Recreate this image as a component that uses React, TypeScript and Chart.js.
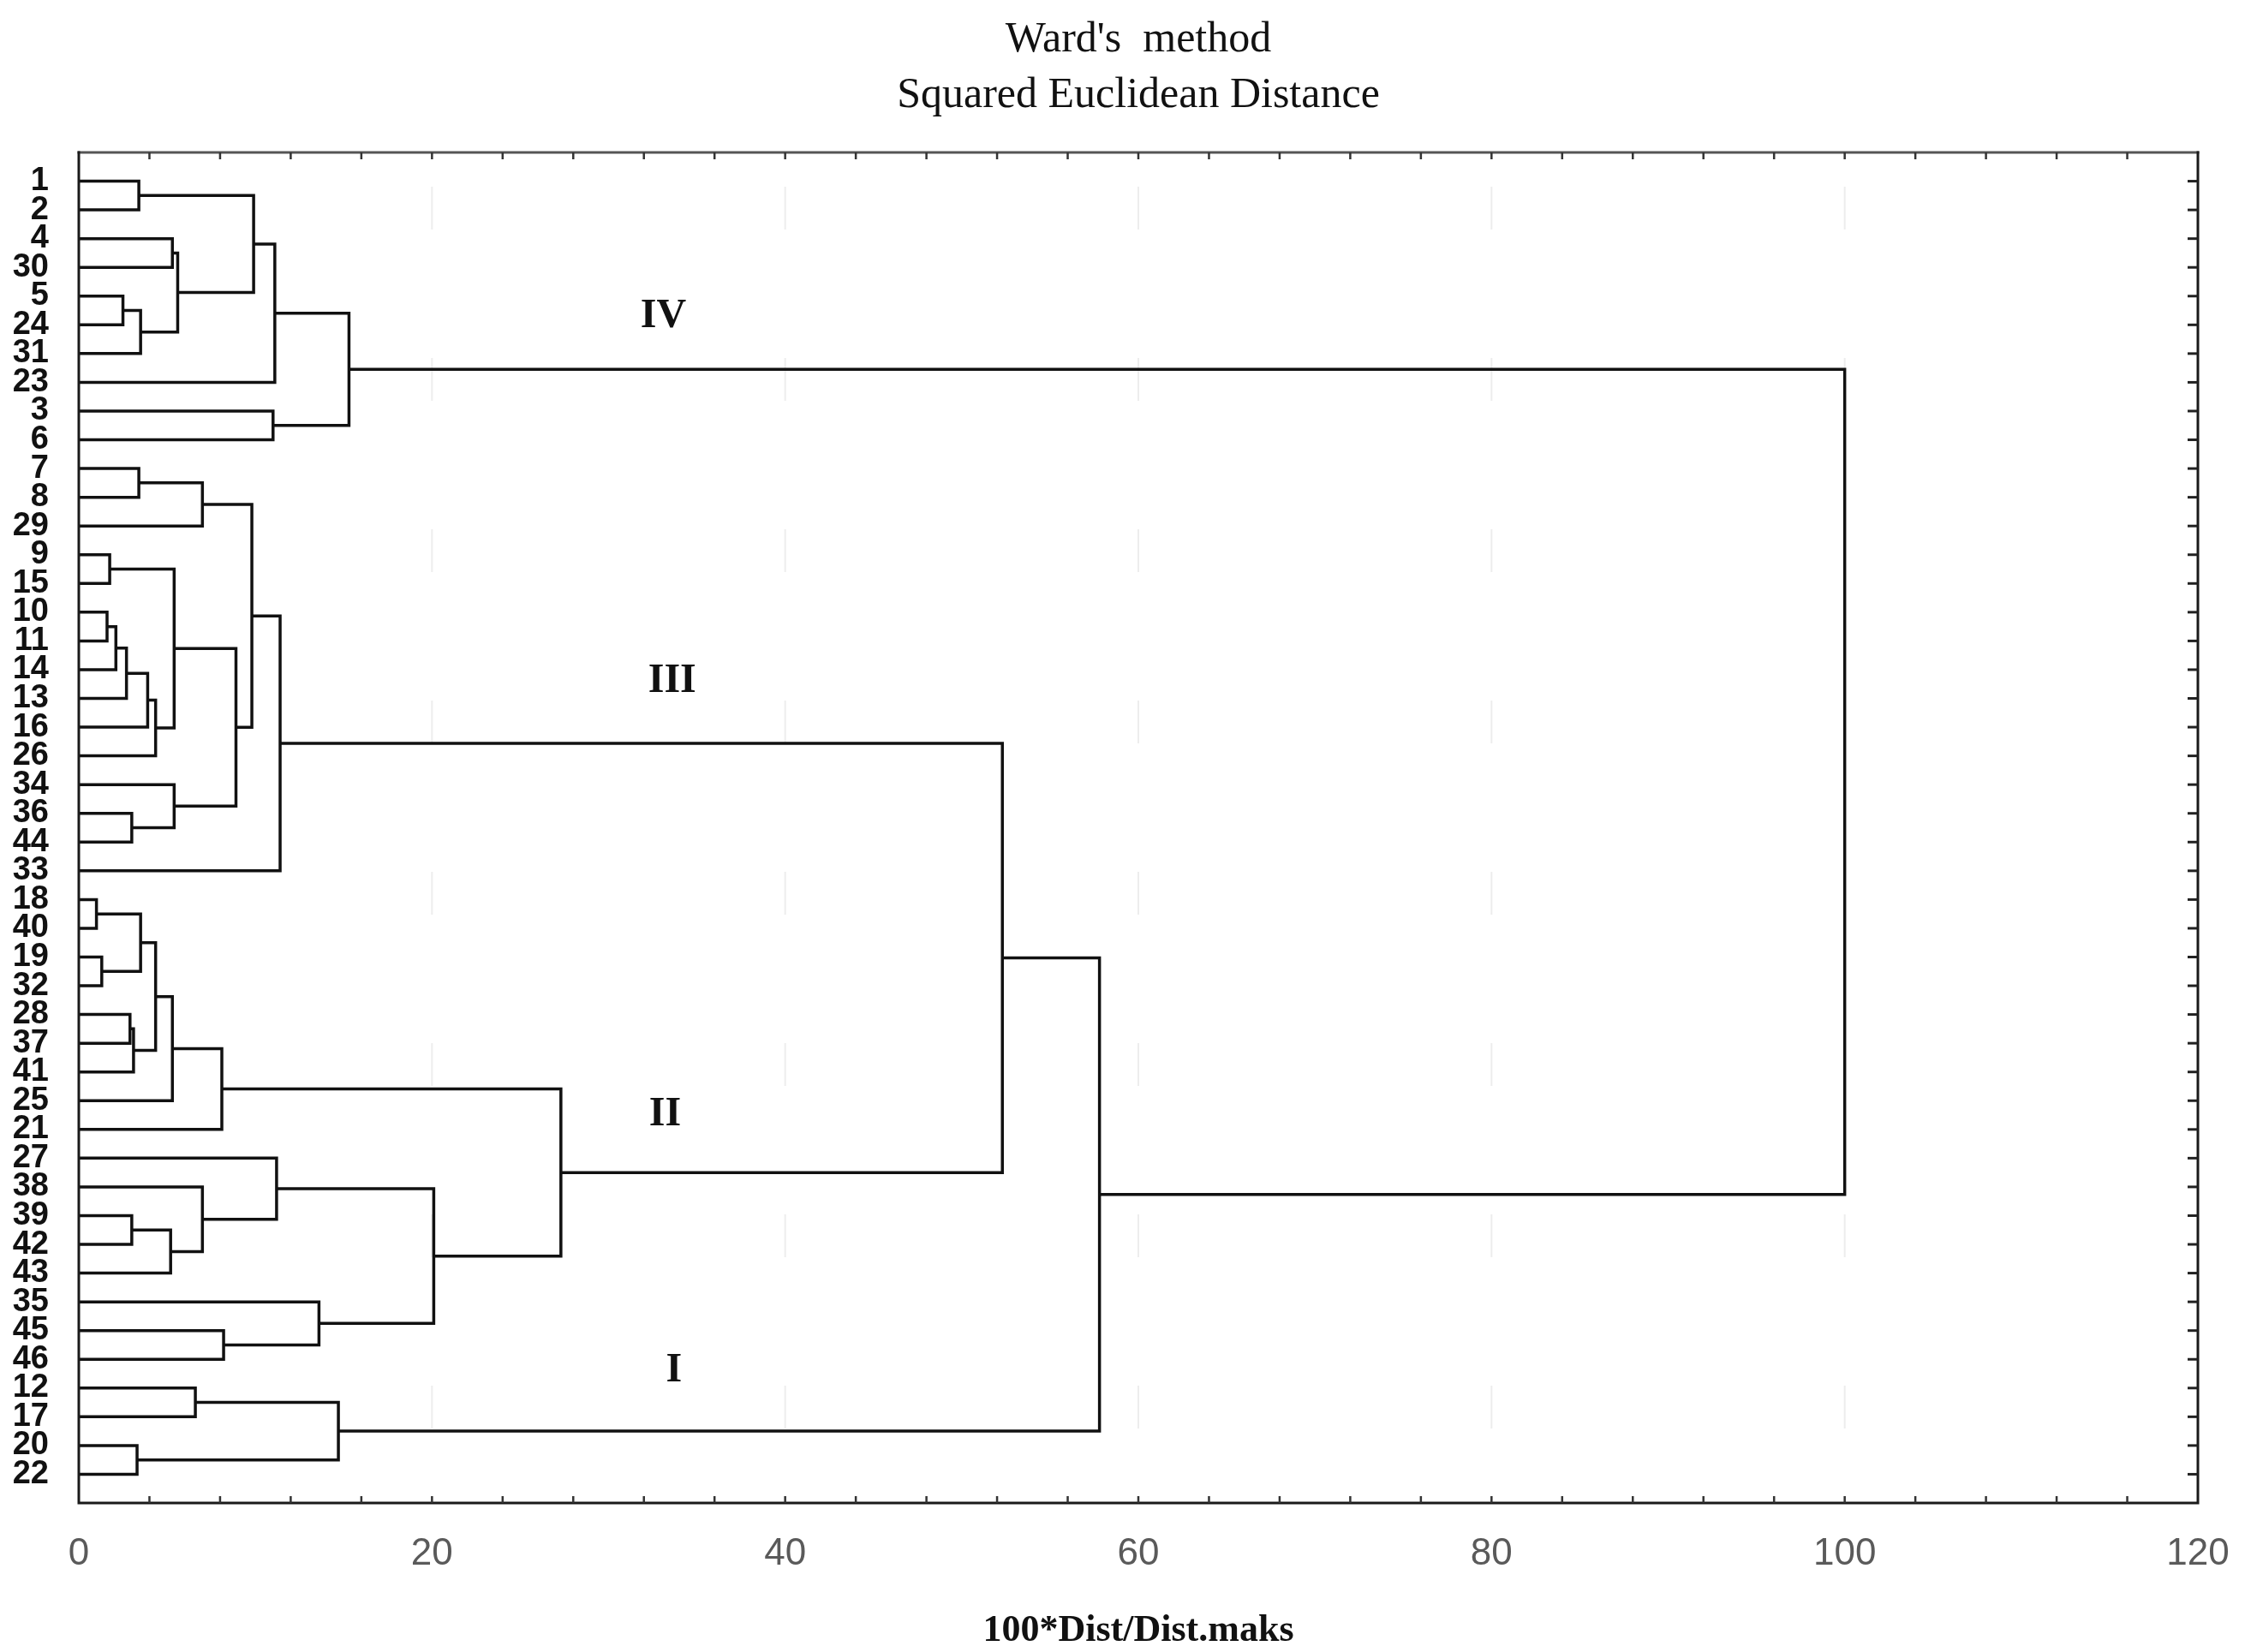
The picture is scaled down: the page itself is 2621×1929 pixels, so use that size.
import React, { useEffect, useRef } from 'react';
import { Chart, registerables } from 'chart.js';

Chart.register(...registerables);

// ---------- data ----------
const titleLines = ["Ward's  method", 'Squared Euclidean Distance'];
const xAxisTitle = '100*Dist/Dist.maks';

// leaf order, top to bottom
const leafOrder = [
  '1', '2', '4', '30', '5', '24', '31', '23', '3', '6',
  '7', '8', '29', '9', '15', '10', '11', '14', '13', '16',
  '26', '34', '36', '44', '33', '18', '40', '19', '32', '28',
  '37', '41', '25', '21', '27', '38', '39', '42', '43', '35',
  '45', '46', '12', '17', '20', '22',
];

// merges: children are leaf labels or 'm<k>' (k-th earlier merge); height = 100*Dist/Dist.maks
const mergeA = [
  '1', '4', '5', 'm2', 'm1', 'm0', 'm5', '3', 'm6',
  '7', 'm9', '9', '10', 'm12', 'm13', 'm14', 'm15', 'm11', '36', '34', 'm17', 'm10', 'm21',
  '18', '19', 'm23', '28', 'm26', 'm25', 'm28', 'm29', '39', 'm31', '38', '27', '45', '35', 'm34', 'm30',
  '12', '20', 'm39',
  'm22', 'm42', 'm8',
];
const mergeB = [
  '2', '30', '24', '31', 'm3', 'm4', '23', '6', 'm7',
  '8', '29', '15', '11', '14', '13', '16', '26', 'm16', '44', 'm18', 'm19', 'm20', '33',
  '40', '32', 'm24', '37', '41', 'm27', '25', '21', '42', '43', 'm32', 'm33', '46', 'm35', 'm36', 'm37',
  '17', '22', 'm40',
  'm38', 'm41', 'm43',
];
const mergeHeight = [
  3.4, 5.3, 2.5, 3.5, 5.6, 9.9, 11.1, 11.0, 15.3,
  3.4, 7.0, 1.75, 1.6, 2.1, 2.7, 3.9, 4.35, 5.4, 3.0, 5.4, 8.9, 9.8, 11.4,
  1.0, 1.3, 3.5, 2.9, 3.1, 4.35, 5.3, 8.1, 3.0, 5.2, 7.0, 11.2, 8.2, 13.6, 20.1, 27.3,
  6.6, 3.3, 14.7,
  52.3, 57.8, 100,
];

const xTickValues = [0, 20, 40, 60, 80, 100, 120];

const clusterNames = ['IV', 'III', 'II', 'I'];
const clusterNameX = [33.1, 33.6, 33.2, 33.7];
const clusterNameY = [5.7, 18.4, 33.5, 42.4];

// ---------- build link segments through data coordinates ----------
function buildLinks() {
  const pos: Record<string, { x: number; y: number }> = {};
  leafOrder.forEach((l, i) => {
    pos[l] = { x: 0, y: i + 1 };
  });
  const links: { x: number; y: number }[][] = [];
  mergeA.forEach((a, k) => {
    const b = mergeB[k];
    const h = mergeHeight[k];
    const pa = pos[a];
    const pb = pos[b];
    links.push([
      { x: pa.x, y: pa.y },
      { x: h, y: pa.y },
      { x: h, y: pb.y },
      { x: pb.x, y: pb.y },
    ]);
    pos['m' + k] = { x: h, y: (pa.y + pb.y) / 2 };
  });
  return links;
}

const decorPlugin = {
  id: 'decor',
  beforeDatasetsDraw(chart: any) {
    const { ctx, chartArea: a, scales } = chart;
    const x = scales.x;
    ctx.save();
    ctx.strokeStyle = 'rgba(0,0,0,0.07)';
    ctx.lineWidth = 2;
    ctx.setLineDash([50, 150]);
    xTickValues.forEach((v) => {
      if (v <= x.min || v >= x.max) return;
      const px = x.getPixelForValue(v);
      ctx.beginPath();
      ctx.moveTo(px, a.top + 40);
      ctx.lineTo(px, a.bottom);
      ctx.stroke();
    });
    ctx.restore();
  },
  afterDraw(chart: any) {
    const { ctx, chartArea: a, scales } = chart;
    const x = scales.x;
    const y = scales.y;
    ctx.save();
    // frame
    ctx.lineCap = 'square';
    ctx.lineWidth = 3;
    ctx.strokeStyle = '#555';
    ctx.beginPath();
    ctx.moveTo(a.left, a.top);
    ctx.lineTo(a.right, a.top);
    ctx.stroke();
    ctx.strokeStyle = '#1a1a1a';
    ctx.beginPath();
    ctx.moveTo(a.right, a.top);
    ctx.lineTo(a.right, a.bottom);
    ctx.lineTo(a.left, a.bottom);
    ctx.lineTo(a.left, a.top);
    ctx.stroke();
    // minor ticks on top and bottom (inward)
    ctx.lineCap = 'butt';
    ctx.lineWidth = 2.5;
    ctx.strokeStyle = '#333';
    for (let v = 4; v < x.max; v += 4) {
      const px = x.getPixelForValue(v);
      ctx.beginPath();
      ctx.moveTo(px, a.top);
      ctx.lineTo(px, a.top + 8);
      ctx.moveTo(px, a.bottom);
      ctx.lineTo(px, a.bottom - 8);
      ctx.stroke();
    }
    // right-side ticks at every leaf
    ctx.lineWidth = 3;
    ctx.strokeStyle = '#222';
    leafOrder.forEach((_, i) => {
      const py = y.getPixelForValue(i + 1);
      ctx.beginPath();
      ctx.moveTo(a.right, py);
      ctx.lineTo(a.right - 12, py);
      ctx.stroke();
    });
    // cluster names
    ctx.fillStyle = '#111';
    ctx.font = 'bold 48px "Liberation Serif", "Times New Roman", serif';
    ctx.textAlign = 'center';
    ctx.textBaseline = 'middle';
    clusterNames.forEach((n, i) => {
      ctx.fillText(n, x.getPixelForValue(clusterNameX[i]), y.getPixelForValue(clusterNameY[i]));
    });
    ctx.restore();
  },
};

export default function App() {
  const canvasRef = useRef<HTMLCanvasElement | null>(null);

  useEffect(() => {
    const canvas = canvasRef.current;
    if (!canvas) return;
    const links = buildLinks();
    const chart = new Chart(canvas, {
      type: 'scatter',
      data: {
        datasets: links.map((pts) => ({
          data: pts,
          showLine: true,
          borderColor: '#111',
          borderWidth: 3.5,
          pointRadius: 0,
          pointHoverRadius: 0,
          fill: false,
          tension: 0,
          clip: false as any,
        })),
      },
      options: {
        animation: false,
        responsive: false,
        devicePixelRatio: 1,
        layout: { padding: { left: 0, right: 55, top: 0, bottom: 0 } },
        plugins: {
          legend: { display: false },
          tooltip: { enabled: false },
          title: {
            display: true,
            fullSize: false,
            text: titleLines,
            color: '#111',
            font: { family: '"Liberation Serif", "Times New Roman", serif', size: 50, weight: 'normal', lineHeight: 1.3 },
            padding: { top: 14, bottom: 34 },
          },
        },
        scales: {
          x: {
            type: 'linear',
            position: 'bottom',
            min: 0,
            max: 120,
            afterBuildTicks: (scale: any) => {
              scale.ticks = xTickValues.map((v) => ({ value: v }));
            },
            afterFit: (scale: any) => {
              scale.height = 174;
              scale.paddingLeft = 0;
              scale.paddingRight = 0;
            },
            grid: { display: false, drawTicks: false },
            border: { display: false },
            ticks: {
              autoSkip: false,
              maxRotation: 0,
              padding: 33,
              color: '#5a5a5a',
              font: { family: '"Liberation Sans", Arial, sans-serif', size: 44, weight: 'normal', lineHeight: 1.2 },
            },
            title: {
              display: true,
              text: xAxisTitle,
              color: '#111',
              font: { family: '"Liberation Serif", "Times New Roman", serif', size: 44, weight: 'bold', lineHeight: 1.1 },
              padding: { top: 0, bottom: 0 },
            },
          },
          y: {
            type: 'linear',
            position: 'left',
            min: 0,
            max: leafOrder.length + 1,
            reverse: true,
            afterBuildTicks: (scale: any) => {
              scale.ticks = leafOrder.map((_, i) => ({ value: i + 1 }));
            },
            afterFit: (scale: any) => {
              scale.width = 92;
              scale.paddingTop = 0;
              scale.paddingBottom = 0;
            },
            grid: { display: false, drawTicks: false },
            border: { display: false },
            ticks: {
              autoSkip: false,
              padding: 35,
              color: '#111',
              font: { family: '"Liberation Sans", Arial, sans-serif', size: 38, weight: 'bold', lineHeight: 1 },
              callback: (value: any) => leafOrder[Math.round(Number(value)) - 1] ?? '',
            },
          },
        },
      },
      plugins: [decorPlugin],
    });
    return () => {
      chart.destroy();
    };
  }, []);

  return (
    <div style={{ position: 'fixed', left: 0, top: 0, width: 2621, height: 1929, background: '#fff' }}>
      <canvas ref={canvasRef} width={2621} height={1929} style={{ display: 'block' }} />
    </div>
  );
}
